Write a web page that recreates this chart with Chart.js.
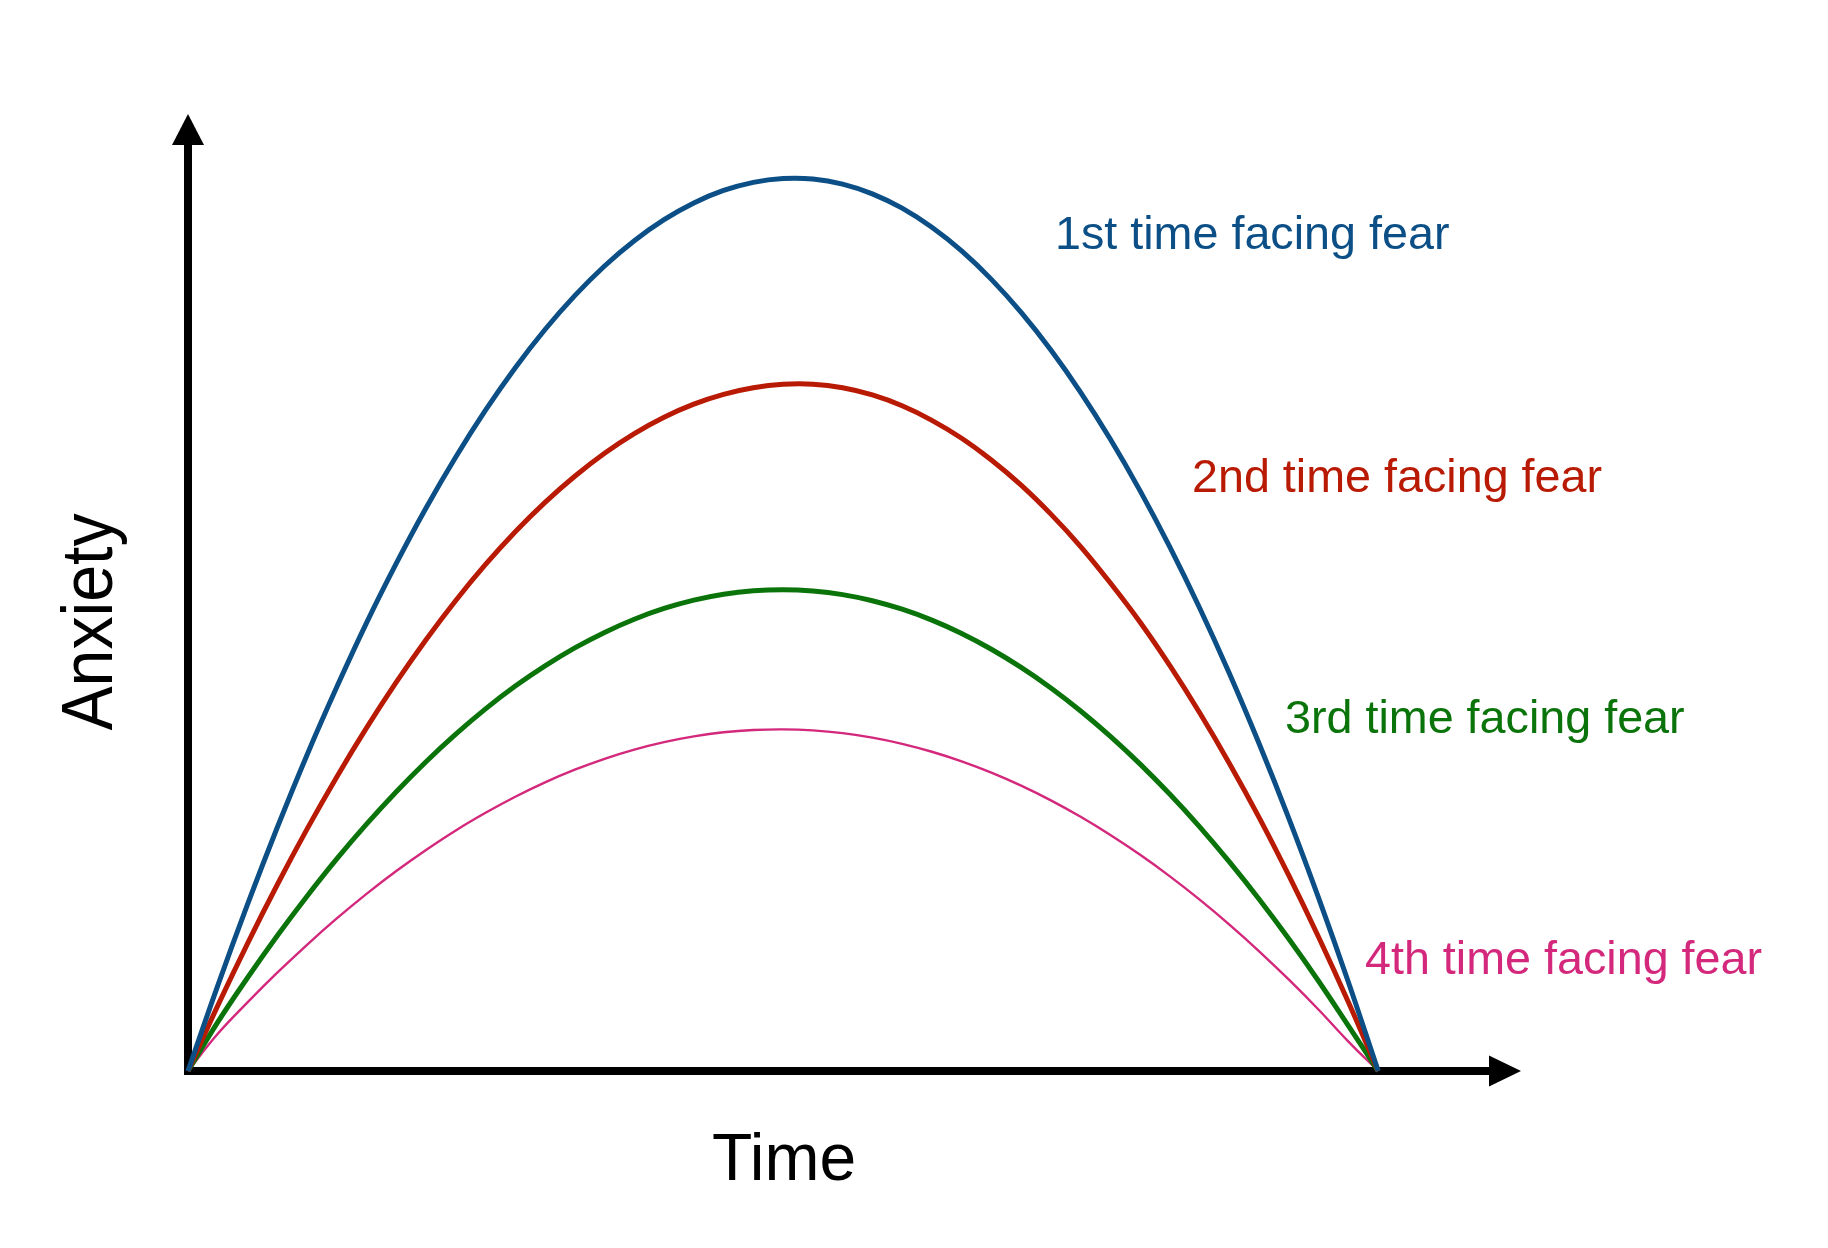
<!DOCTYPE html>
<html>
<head>
<meta charset="utf-8">
<script src="https://cdn.jsdelivr.net/npm/chart.js@4.4.1/dist/chart.umd.min.js"></script>
<style>
  html, body { margin: 0; padding: 0; background: #ffffff; }
  #wrap { width: 1828px; height: 1248px; position: relative; }
</style>
</head>
<body>
<div id="wrap"><canvas id="c"></canvas></div>
<script>
// ---- data ----
const time = [0, 2.5, 5, 7.5, 10, 12.5, 15, 17.5, 20, 22.5, 25, 27.5, 30, 32.5, 35, 37.5, 40, 42.5, 45, 47.5,
              50, 52.5, 55, 57.5, 60, 62.5, 65, 67.5, 70, 72.5, 75, 77.5, 80, 82.5, 85, 87.5, 90, 92.5, 95, 97.5, 100];
const firstTime  = [0, 8.92, 17.40, 25.44, 33.03, 40.12, 46.83, 53.04, 58.83, 64.16, 69.05, 73.49, 77.48, 81.02, 84.12, 86.76, 88.96, 90.71, 92.01, 92.86,
                    93.26, 93.21, 92.68, 91.66, 90.16, 88.16, 85.69, 82.72, 79.27, 75.34, 70.92, 66.01, 60.62, 54.74, 48.38, 41.53, 34.19, 26.38, 18.07, 9.28, 0];
const secondTime = [0, 6.83, 13.32, 19.46, 25.27, 30.73, 35.85, 40.63, 45.07, 49.17, 52.93, 56.35, 59.42, 62.15, 64.55, 66.60, 68.31, 69.68, 70.70, 71.39,
                    71.75, 71.76, 71.39, 70.64, 69.51, 67.99, 66.12, 63.85, 61.22, 58.19, 54.80, 50.99, 46.89, 42.35, 37.43, 32.14, 26.48, 20.41, 13.98, 7.18, 0];
const thirdTime  = [0, 5.10, 9.74, 14.13, 18.26, 22.16, 25.79, 29.18, 32.32, 35.20, 37.84, 40.22, 42.33, 44.21, 45.83, 47.21, 48.33, 49.20, 49.82, 50.18,
                    50.30, 50.16, 49.78, 49.14, 48.25, 47.11, 45.72, 44.07, 42.17, 40.02, 37.62, 34.97, 32.07, 28.91, 25.51, 21.85, 17.95, 13.79, 9.38, 4.71, 0];
const fourthTime = [0, 3.89, 7.17, 10.27, 13.19, 15.94, 18.51, 20.90, 23.10, 25.14, 26.98, 28.66, 30.16, 31.48, 32.62, 33.58, 34.36, 34.96, 35.39, 35.63,
                    35.70, 35.59, 35.30, 34.83, 34.19, 33.36, 32.36, 31.18, 29.82, 28.28, 26.56, 24.66, 22.59, 20.34, 17.91, 15.30, 12.51, 9.54, 6.40, 3.07, 0];
const seriesNames = ['1st time facing fear', '2nd time facing fear', '3rd time facing fear', '4th time facing fear'];
const xTitle = 'Time';
const yTitle = 'Anxiety';

// ---- styles ----
const colors = ['#0B4F86', '#B81A04', '#0A740A', '#D3287B'];
const widths = [5, 5, 5, 2.4];
const labelPos = [[1055, 249], [1192, 492], [1285, 733], [1365, 974]];
const FONT = '"Liberation Sans", Helvetica, Arial, sans-serif';

const allSeries = [firstTime, secondTime, thirdTime, fourthTime];
const datasets = allSeries.map((vals, i) => ({
  label: seriesNames[i],
  data: time.map((t, j) => ({ x: t, y: vals[j] })),
  borderColor: colors[i],
  borderWidth: widths[i],
  pointRadius: 0,
  tension: 0.4,
  fill: false,
  clip: false
}));

const decor = {
  id: 'decor',
  beforeDatasetsDraw(chart) {
    const ctx = chart.ctx;
    const xs = chart.scales.x, ys = chart.scales.y;
    const x0 = xs.getPixelForValue(0), y0 = ys.getPixelForValue(0);
    const xEnd = xs.right, yTop = ys.top;
    ctx.save();
    ctx.fillStyle = '#000';
    ctx.strokeStyle = '#000';
    ctx.lineWidth = 8;
    ctx.lineCap = 'butt';
    ctx.beginPath();
    ctx.moveTo(x0, y0 + 4);
    ctx.lineTo(x0, yTop + 28);
    ctx.stroke();
    ctx.beginPath();
    ctx.moveTo(x0 - 4, y0);
    ctx.lineTo(xEnd - 28, y0);
    ctx.stroke();
    ctx.beginPath();
    ctx.moveTo(x0, yTop);
    ctx.lineTo(x0 - 16, yTop + 31);
    ctx.lineTo(x0 + 16, yTop + 31);
    ctx.closePath();
    ctx.fill();
    ctx.beginPath();
    ctx.moveTo(xEnd, y0);
    ctx.lineTo(xEnd - 32, y0 - 15.5);
    ctx.lineTo(xEnd - 32, y0 + 15.5);
    ctx.closePath();
    ctx.fill();
    ctx.restore();
  },
  afterDatasetsDraw(chart) {
    const ctx = chart.ctx;
    ctx.save();
    ctx.textBaseline = 'alphabetic';
    ctx.textAlign = 'left';
    ctx.font = '46.7px ' + FONT;
    seriesNames.forEach((name, i) => {
      ctx.fillStyle = colors[i];
      ctx.fillText(name, labelPos[i][0], labelPos[i][1]);
    });
    ctx.fillStyle = '#000';
    ctx.textAlign = 'center';
    ctx.font = '66px ' + FONT;
    ctx.fillText(xTitle, 784, 1180);
    ctx.save();
    ctx.translate(112, 622);
    ctx.rotate(-Math.PI / 2);
    ctx.scale(0.92, 1);
    ctx.font = '72px ' + FONT;
    ctx.fillText(yTitle, 0, 0);
    ctx.restore();
    ctx.restore();
  }
};

new Chart(document.getElementById('c'), {
  type: 'line',
  data: { datasets },
  options: {
    responsive: true,
    maintainAspectRatio: false,
    animation: false,
    layout: { padding: { left: 188, top: 114, right: 307, bottom: 177 } },
    plugins: { legend: { display: false }, tooltip: { enabled: false } },
    scales: {
      x: { type: 'linear', min: 0, max: 112, display: false },
      y: { type: 'linear', min: 0, max: 100, display: false }
    }
  },
  plugins: [decor]
});
</script>
</body>
</html>
